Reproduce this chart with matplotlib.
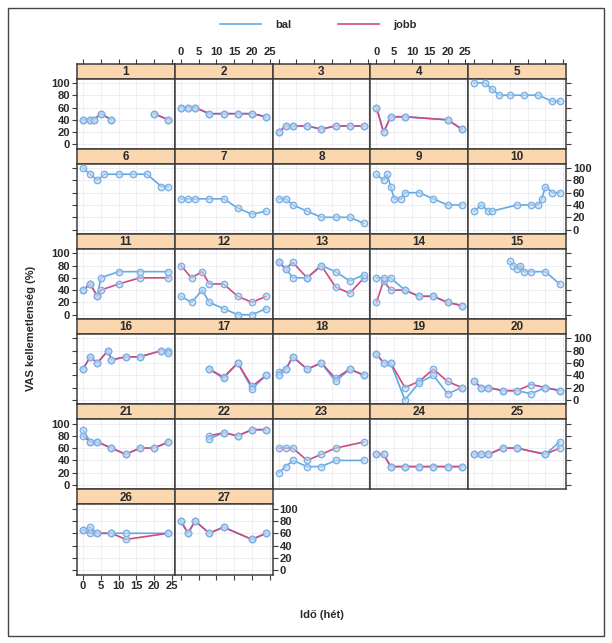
import matplotlib
matplotlib.use("Agg")
import matplotlib.pyplot as plt
from matplotlib.patches import Rectangle
from matplotlib.lines import Line2D
import numpy as np

plt.rcParams['font.family'] = ['Liberation Sans', 'DejaVu Sans']
plt.rcParams['font.weight'] = 'bold'

# panel labels (patients) and time points per panel
panels = [str(i) for i in range(1, 28)]

weeks = [
    [0, 2, 3, 5, 8, 12, 20, 24],              # 1
    [0, 2, 4, 8, 12, 16, 20, 24],             # 2
    [0, 2, 4, 8, 12, 16, 20, 24],             # 3
    [0, 2, 4, 8, 20, 24],                     # 4
    [0, 3, 5, 7, 10, 14, 18, 22, 24],         # 5
    [0, 2, 4, 6, 10, 14, 18, 22, 24],         # 6
    [0, 2, 4, 8, 12, 16, 20, 24],             # 7
    [0, 2, 4, 8, 12, 16, 20, 24],             # 8
    [0, 2, 3, 4, 5, 7, 8, 12, 16, 20, 24],    # 9
    [0, 2, 4, 5, 12, 16, 18, 19, 20, 22, 24], # 10
    [0, 2, 4, 5, 10, 16, 24],                 # 11
    [0, 3, 6, 8, 12, 16, 20, 24],             # 12
    [0, 2, 4, 8, 12, 16, 20, 24],             # 13
    [0, 2, 4, 8, 12, 16, 20, 24],             # 14
    [10, 11, 12, 13, 14, 16, 20, 24],         # 15
    [0, 2, 4, 7, 8, 12, 16, 22, 24],          # 16
    [8, 12, 16, 20, 24],                      # 17
    [0, 2, 4, 8, 12, 16, 20, 24],             # 18
    [0, 2, 4, 8, 12, 16, 20, 24],             # 19
    [0, 2, 4, 8, 12, 16, 20, 24],             # 20
    [0, 2, 4, 8, 12, 16, 20, 24],             # 21
    [8, 12, 16, 20, 24],                      # 22
    [0, 2, 4, 8, 12, 16, 24],                 # 23
    [0, 2, 4, 8, 12, 16, 20, 24],             # 24
    [0, 2, 4, 8, 12, 20, 24],                 # 25
    [0, 2, 4, 8, 12, 24],                     # 26
    [0, 2, 4, 8, 12, 20, 24],                 # 27
]

# VAS values, left side ("bal")
bal = [
    [40, 40, 40, 50, 40, None, 50, 40],
    [60, 60, 60, 50, 50, 50, 50, 45],
    [20, 30, 30, 30, 25, 30, 30, 30],
    [60, 20, 45, 45, 40, 25],
    [100, 100, 90, 80, 80, 80, 80, 70, 70],
    [100, 90, 80, 90, 90, 90, 90, 70, 70],
    [50, 50, 50, 50, 50, 35, 25, 30],
    [50, 50, 40, 30, 20, 20, 20, 10],
    [90, 80, 90, 70, 50, 50, 60, 60, 50, 40, 40],
    [30, 40, 30, 30, 40, 40, 40, 50, 70, 60, 60],
    [40, 50, 30, 60, 70, 70, 70],
    [30, 20, 40, 20, 10, 0, 0, 10],
    [85, 75, 60, 60, 80, 70, 55, 65],
    [60, 60, 60, 40, 30, 30, 20, 15],
    [87, 80, 75, 80, 70, 70, 70, 50],
    [50, 70, 60, 80, 65, 70, 70, 80, 77],
    [50, 35, 60, 18, 40],
    [40, 50, 70, 50, 60, 30, 50, 40],
    [75, 60, 60, 0, 28, 40, 10, 20],
    [30, 20, 20, 15, 15, 10, 20, 15],
    [90, 70, 70, 60, 50, 60, 60, 70],
    [75, 85, 80, 90, 90],
    [20, 30, 40, 30, 30, 40, 40],
    [50, 50, 30, 30, 30, 30, 30, 30],
    [50, 50, 50, 60, 60, 50, 70],
    [65, 70, 60, 60, 60, 60],
    [80, 60, 80, 60, 70, 50, 60],
]

# VAS values, right side ("jobb"); empty = not measured
jobb = [
    [40, 40, 40, 50, 40, None, 50, 40],
    [60, 60, 60, 50, 50, 50, 50, 45],
    [20, 30, 30, 30, 25, 30, 30, 30],
    [60, 20, 45, 45, 40, 25],
    [],
    [],
    [],
    [],
    [],
    [],
    [40, 50, 30, 40, 50, 60, 60],
    [80, 60, 70, 50, 50, 30, 20, 30],
    [85, 75, 85, 60, 80, 45, 35, 60],
    [20, 55, 40, 40, 30, 30, 20, 15],
    [],
    [50, 70, 60, 80, 65, 70, 70, 80, 80],
    [50, 37, 60, 22, 40],
    [45, 50, 70, 50, 60, 35, 50, 40],
    [75, 60, 60, 20, 30, 50, 30, 20],
    [30, 20, 20, 15, 15, 25, 20, 15],
    [80, 70, 70, 60, 50, 60, 60, 70],
    [80, 85, 80, 90, 90],
    [60, 60, 60, 40, 50, 60, 70],
    [50, 50, 30, 30, 30, 30, 30, 30],
    [50, 50, 50, 60, 60, 50, 60],
    [65, 60, 60, 60, 50, 60],
    [80, 60, 80, 60, 70, 50, 60],
]

x_ticks = [0, 5, 10, 15, 20, 25]
y_ticks = [0, 20, 40, 60, 80, 100]

BLUE = '#62aae6'
PINK = '#cf4a82'
MK_EDGE = '#7fb2e2'
MK_FACE = (0.76, 0.86, 0.96, 0.6)
FRAME = '#3c3c3c'
STRIP = '#fbd7b0'
TXT = '#2a2a2a'

W, H = 612, 643
fig = plt.figure(figsize=(W / 100, H / 100), dpi=100)

# layout in pixels
left0, col_w = 77, 97.8
top0, row_h, strip_h = 63.6, 85.15, 15.0
ncol = 5
nrow = 6


def rect(left, top, w, h):
    return [left / W, 1 - (top + h) / H, w / W, h / H]


for i, name in enumerate(panels):
    row, col = divmod(i, ncol)
    last_in_row = min(ncol - 1, len(panels) - 1 - row * ncol)
    x0 = left0 + col * col_w
    y0 = top0 + row * row_h

    sax = fig.add_axes(rect(x0, y0, col_w, strip_h))
    sax.set_facecolor(STRIP)
    sax.set_xlim(-1.7, 25.8)
    sax.set_yticks([])
    sax.text(0.5, 0.45, name, transform=sax.transAxes, ha='center',
             va='center', fontsize=8.5, color=TXT)
    for sp in sax.spines.values():
        sp.set_color(FRAME)
        sp.set_linewidth(1.1)
    if row == 0:
        sax.set_xticks(x_ticks)
        sax.tick_params(axis='x', top=True, bottom=False, labelbottom=False,
                        labeltop=(col % 2 == 1), direction='out', length=3.5,
                        width=0.8, color=FRAME, labelsize=8, labelcolor=TXT,
                        pad=1.5)
    else:
        sax.set_xticks([])

    ax = fig.add_axes(rect(x0, y0 + strip_h, col_w, row_h - strip_h))
    ax.set_xlim(-1.7, 25.8)
    ax.set_ylim(-7, 107)
    ax.set_xticks(x_ticks)
    ax.set_yticks(y_ticks)
    ax.grid(True, color='#e9e9ee', linewidth=0.5)
    ax.set_axisbelow(True)
    for sp in ax.spines.values():
        sp.set_color(FRAME)
        sp.set_linewidth(1.1)

    bottom_row = row == nrow - 1
    ax.tick_params(axis='x', bottom=bottom_row, top=False,
                   labelbottom=bottom_row and col % 2 == 0, labeltop=False,
                   direction='out', length=3.5, width=0.8, color=FRAME,
                   labelsize=8, labelcolor=TXT, pad=1.5)
    ax.tick_params(axis='y', left=(col == 0), right=(col == last_in_row),
                   labelleft=(col == 0 and row % 2 == 0),
                   labelright=(col == last_in_row and row % 2 == 1),
                   direction='out', length=3.5, width=0.8, color=FRAME,
                   labelsize=8, labelcolor=TXT, pad=1.5)

    xs = np.array(weeks[i], dtype=float)
    yb = np.array(bal[i], dtype=float)
    ax.plot(xs, yb, color=BLUE, lw=1.2, zorder=2)
    if jobb[i]:
        yj = np.array(jobb[i], dtype=float)
        ax.plot(xs, yj, color=PINK, lw=1.2, zorder=3)
        ax.plot(xs, yj, ls='none', marker='o', ms=4.6, mfc=MK_FACE,
                mec=MK_EDGE, mew=1.0, zorder=4)
    ax.plot(xs, yb, ls='none', marker='o', ms=4.6, mfc=MK_FACE,
            mec=MK_EDGE, mew=1.0, zorder=4)

# legend on top
handles = [Line2D([], [], color=BLUE, lw=1.2), Line2D([], [], color=PINK, lw=1.2)]
leg = fig.legend(handles, ['bal', 'jobb'], loc='center', ncol=2,
                 bbox_to_anchor=(0.52, 1 - 24.6 / H), frameon=False,
                 fontsize=8, handlelength=3.7, handletextpad=1.3,
                 columnspacing=4.2)
for t in leg.get_texts():
    t.set_color(TXT)

fig.text(31 / W, 1 - 328 / H, 'VAS kellemetlenség (%)', rotation=90,
         ha='center', va='center', fontsize=8, color=TXT)
fig.text(322 / W, 1 - 615.5 / H, 'Idő (hét)', ha='center', va='center',
         fontsize=8, color=TXT)

# outer frame
fig.patches.append(Rectangle((8 / W, 1 - 636 / H), 596 / W, 628 / H,
                             transform=fig.transFigure, fill=False,
                             edgecolor='#444444', linewidth=1.0))

fig.savefig('out.png', dpi=100)
